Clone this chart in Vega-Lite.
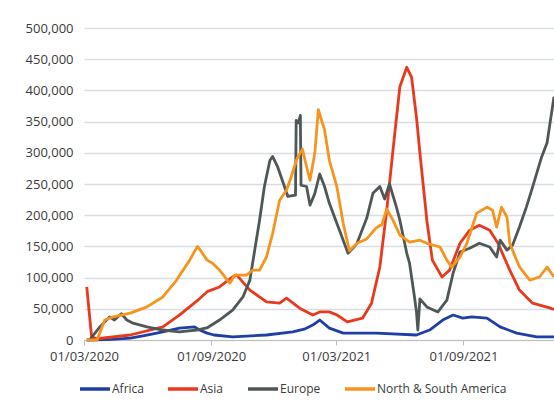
{
  "$schema": "https://vega.github.io/schema/vega-lite/v6.json",
  "width": 470,
  "height": 312,
  "autosize": {"type": "none"},
  "padding": {"left": 84, "top": 28, "right": 0, "bottom": 61},
  "background": "#ffffff",
  "config": {"font": "Open Sans", "view": {"stroke": null}},
  "data": {"values": [
    {"region": "Africa", "date": "2020-03-05", "cases": 0},
    {"region": "Africa", "date": "2020-04-10", "cases": 1000},
    {"region": "Africa", "date": "2020-05-07", "cases": 3000},
    {"region": "Africa", "date": "2020-05-31", "cases": 8000},
    {"region": "Africa", "date": "2020-06-23", "cases": 13000},
    {"region": "Africa", "date": "2020-07-17", "cases": 19000},
    {"region": "Africa", "date": "2020-08-08", "cases": 21000},
    {"region": "Africa", "date": "2020-08-15", "cases": 16000},
    {"region": "Africa", "date": "2020-08-26", "cases": 11000},
    {"region": "Africa", "date": "2020-09-05", "cases": 8000},
    {"region": "Africa", "date": "2020-10-02", "cases": 5000},
    {"region": "Africa", "date": "2020-11-20", "cases": 8000},
    {"region": "Africa", "date": "2020-12-28", "cases": 13000},
    {"region": "Africa", "date": "2021-01-15", "cases": 18000},
    {"region": "Africa", "date": "2021-01-26", "cases": 24000},
    {"region": "Africa", "date": "2021-02-05", "cases": 32000},
    {"region": "Africa", "date": "2021-02-19", "cases": 19000},
    {"region": "Africa", "date": "2021-03-11", "cases": 11000},
    {"region": "Africa", "date": "2021-04-28", "cases": 11000},
    {"region": "Africa", "date": "2021-06-25", "cases": 8000},
    {"region": "Africa", "date": "2021-07-14", "cases": 16000},
    {"region": "Africa", "date": "2021-08-02", "cases": 32000},
    {"region": "Africa", "date": "2021-08-17", "cases": 40000},
    {"region": "Africa", "date": "2021-08-31", "cases": 35000},
    {"region": "Africa", "date": "2021-09-13", "cases": 37000},
    {"region": "Africa", "date": "2021-10-05", "cases": 35000},
    {"region": "Africa", "date": "2021-10-24", "cases": 21000},
    {"region": "Africa", "date": "2021-11-17", "cases": 11000},
    {"region": "Africa", "date": "2021-12-16", "cases": 5000},
    {"region": "Africa", "date": "2022-01-10", "cases": 5000},

    {"region": "Asia", "date": "2020-03-05", "cases": 85000},
    {"region": "Asia", "date": "2020-03-12", "cases": 5000},
    {"region": "Asia", "date": "2020-03-20", "cases": 2000},
    {"region": "Asia", "date": "2020-05-07", "cases": 8000},
    {"region": "Asia", "date": "2020-06-23", "cases": 21000},
    {"region": "Asia", "date": "2020-07-17", "cases": 40000},
    {"region": "Asia", "date": "2020-08-15", "cases": 66000},
    {"region": "Asia", "date": "2020-08-27", "cases": 78000},
    {"region": "Asia", "date": "2020-09-13", "cases": 85000},
    {"region": "Asia", "date": "2020-10-02", "cases": 101000},
    {"region": "Asia", "date": "2020-10-08", "cases": 104000},
    {"region": "Asia", "date": "2020-10-27", "cases": 80000},
    {"region": "Asia", "date": "2020-11-20", "cases": 61000},
    {"region": "Asia", "date": "2020-12-09", "cases": 59000},
    {"region": "Asia", "date": "2020-12-19", "cases": 67000},
    {"region": "Asia", "date": "2021-01-07", "cases": 51000},
    {"region": "Asia", "date": "2021-01-26", "cases": 40000},
    {"region": "Asia", "date": "2021-02-05", "cases": 45000},
    {"region": "Asia", "date": "2021-02-19", "cases": 45000},
    {"region": "Asia", "date": "2021-03-02", "cases": 40000},
    {"region": "Asia", "date": "2021-03-17", "cases": 29000},
    {"region": "Asia", "date": "2021-04-08", "cases": 35000},
    {"region": "Asia", "date": "2021-04-21", "cases": 59000},
    {"region": "Asia", "date": "2021-05-03", "cases": 117000},
    {"region": "Asia", "date": "2021-05-13", "cases": 208000},
    {"region": "Asia", "date": "2021-05-22", "cases": 304000},
    {"region": "Asia", "date": "2021-06-01", "cases": 406000},
    {"region": "Asia", "date": "2021-06-11", "cases": 437000},
    {"region": "Asia", "date": "2021-06-18", "cases": 421000},
    {"region": "Asia", "date": "2021-06-25", "cases": 357000},
    {"region": "Asia", "date": "2021-06-30", "cases": 300000},
    {"region": "Asia", "date": "2021-07-10", "cases": 192000},
    {"region": "Asia", "date": "2021-07-18", "cases": 128000},
    {"region": "Asia", "date": "2021-08-01", "cases": 101000},
    {"region": "Asia", "date": "2021-08-12", "cases": 112000},
    {"region": "Asia", "date": "2021-08-27", "cases": 155000},
    {"region": "Asia", "date": "2021-09-10", "cases": 176000},
    {"region": "Asia", "date": "2021-09-24", "cases": 184000},
    {"region": "Asia", "date": "2021-10-09", "cases": 176000},
    {"region": "Asia", "date": "2021-10-21", "cases": 155000},
    {"region": "Asia", "date": "2021-11-07", "cases": 112000},
    {"region": "Asia", "date": "2021-11-21", "cases": 80000},
    {"region": "Asia", "date": "2021-12-10", "cases": 59000},
    {"region": "Asia", "date": "2022-01-05", "cases": 51000},
    {"region": "Asia", "date": "2022-01-10", "cases": 49000},

    {"region": "Europe", "date": "2020-03-09", "cases": 0},
    {"region": "Europe", "date": "2020-03-24", "cases": 21000},
    {"region": "Europe", "date": "2020-04-07", "cases": 37000},
    {"region": "Europe", "date": "2020-04-14", "cases": 32000},
    {"region": "Europe", "date": "2020-04-24", "cases": 42000},
    {"region": "Europe", "date": "2020-05-02", "cases": 32000},
    {"region": "Europe", "date": "2020-05-11", "cases": 27000},
    {"region": "Europe", "date": "2020-05-31", "cases": 21000},
    {"region": "Europe", "date": "2020-06-23", "cases": 16000},
    {"region": "Europe", "date": "2020-07-17", "cases": 13000},
    {"region": "Europe", "date": "2020-08-11", "cases": 16000},
    {"region": "Europe", "date": "2020-08-27", "cases": 20000},
    {"region": "Europe", "date": "2020-09-13", "cases": 32000},
    {"region": "Europe", "date": "2020-10-02", "cases": 48000},
    {"region": "Europe", "date": "2020-10-17", "cases": 69000},
    {"region": "Europe", "date": "2020-10-27", "cases": 96000},
    {"region": "Europe", "date": "2020-11-03", "cases": 144000},
    {"region": "Europe", "date": "2020-11-10", "cases": 192000},
    {"region": "Europe", "date": "2020-11-17", "cases": 246000},
    {"region": "Europe", "date": "2020-11-25", "cases": 288000},
    {"region": "Europe", "date": "2020-11-29", "cases": 294000},
    {"region": "Europe", "date": "2020-12-06", "cases": 278000},
    {"region": "Europe", "date": "2020-12-16", "cases": 246000},
    {"region": "Europe", "date": "2020-12-21", "cases": 230000},
    {"region": "Europe", "date": "2021-01-01", "cases": 232000},
    {"region": "Europe", "date": "2021-01-02", "cases": 352000},
    {"region": "Europe", "date": "2021-01-05", "cases": 348000},
    {"region": "Europe", "date": "2021-01-08", "cases": 360000},
    {"region": "Europe", "date": "2021-01-09", "cases": 248000},
    {"region": "Europe", "date": "2021-01-17", "cases": 246000},
    {"region": "Europe", "date": "2021-01-22", "cases": 216000},
    {"region": "Europe", "date": "2021-01-29", "cases": 235000},
    {"region": "Europe", "date": "2021-02-05", "cases": 266000},
    {"region": "Europe", "date": "2021-02-12", "cases": 246000},
    {"region": "Europe", "date": "2021-02-19", "cases": 219000},
    {"region": "Europe", "date": "2021-03-11", "cases": 160000},
    {"region": "Europe", "date": "2021-03-18", "cases": 139000},
    {"region": "Europe", "date": "2021-03-25", "cases": 147000},
    {"region": "Europe", "date": "2021-03-31", "cases": 155000},
    {"region": "Europe", "date": "2021-04-14", "cases": 195000},
    {"region": "Europe", "date": "2021-04-23", "cases": 235000},
    {"region": "Europe", "date": "2021-05-03", "cases": 246000},
    {"region": "Europe", "date": "2021-05-10", "cases": 226000},
    {"region": "Europe", "date": "2021-05-17", "cases": 250000},
    {"region": "Europe", "date": "2021-05-27", "cases": 213000},
    {"region": "Europe", "date": "2021-06-01", "cases": 192000},
    {"region": "Europe", "date": "2021-06-11", "cases": 139000},
    {"region": "Europe", "date": "2021-06-15", "cases": 123000},
    {"region": "Europe", "date": "2021-06-22", "cases": 70000},
    {"region": "Europe", "date": "2021-06-25", "cases": 45000},
    {"region": "Europe", "date": "2021-06-27", "cases": 16000},
    {"region": "Europe", "date": "2021-06-30", "cases": 66000},
    {"region": "Europe", "date": "2021-07-10", "cases": 53000},
    {"region": "Europe", "date": "2021-07-26", "cases": 45000},
    {"region": "Europe", "date": "2021-08-08", "cases": 64000},
    {"region": "Europe", "date": "2021-08-17", "cases": 107000},
    {"region": "Europe", "date": "2021-08-27", "cases": 141000},
    {"region": "Europe", "date": "2021-09-10", "cases": 147000},
    {"region": "Europe", "date": "2021-09-24", "cases": 155000},
    {"region": "Europe", "date": "2021-10-09", "cases": 149000},
    {"region": "Europe", "date": "2021-10-19", "cases": 133000},
    {"region": "Europe", "date": "2021-10-24", "cases": 160000},
    {"region": "Europe", "date": "2021-11-03", "cases": 144000},
    {"region": "Europe", "date": "2021-11-11", "cases": 152000},
    {"region": "Europe", "date": "2021-11-21", "cases": 181000},
    {"region": "Europe", "date": "2021-12-01", "cases": 213000},
    {"region": "Europe", "date": "2021-12-10", "cases": 245000},
    {"region": "Europe", "date": "2021-12-23", "cases": 293000},
    {"region": "Europe", "date": "2021-12-31", "cases": 316000},
    {"region": "Europe", "date": "2022-01-10", "cases": 390000},

    {"region": "North & South America", "date": "2020-03-05", "cases": 0},
    {"region": "North & South America", "date": "2020-03-20", "cases": 0},
    {"region": "North & South America", "date": "2020-03-31", "cases": 32000},
    {"region": "North & South America", "date": "2020-04-12", "cases": 37000},
    {"region": "North & South America", "date": "2020-05-07", "cases": 43000},
    {"region": "North & South America", "date": "2020-05-31", "cases": 53000},
    {"region": "North & South America", "date": "2020-06-23", "cases": 69000},
    {"region": "North & South America", "date": "2020-07-13", "cases": 96000},
    {"region": "North & South America", "date": "2020-08-01", "cases": 128000},
    {"region": "North & South America", "date": "2020-08-12", "cases": 150000},
    {"region": "North & South America", "date": "2020-08-15", "cases": 146000},
    {"region": "North & South America", "date": "2020-08-26", "cases": 128000},
    {"region": "North & South America", "date": "2020-09-03", "cases": 123000},
    {"region": "North & South America", "date": "2020-09-13", "cases": 112000},
    {"region": "North & South America", "date": "2020-09-28", "cases": 91000},
    {"region": "North & South America", "date": "2020-10-05", "cases": 104000},
    {"region": "North & South America", "date": "2020-10-22", "cases": 104000},
    {"region": "North & South America", "date": "2020-10-31", "cases": 112000},
    {"region": "North & South America", "date": "2020-11-10", "cases": 112000},
    {"region": "North & South America", "date": "2020-11-20", "cases": 133000},
    {"region": "North & South America", "date": "2020-11-29", "cases": 171000},
    {"region": "North & South America", "date": "2020-12-09", "cases": 224000},
    {"region": "North & South America", "date": "2020-12-19", "cases": 240000},
    {"region": "North & South America", "date": "2020-12-26", "cases": 262000},
    {"region": "North & South America", "date": "2021-01-03", "cases": 290000},
    {"region": "North & South America", "date": "2021-01-11", "cases": 306000},
    {"region": "North & South America", "date": "2021-01-17", "cases": 278000},
    {"region": "North & South America", "date": "2021-01-22", "cases": 256000},
    {"region": "North & South America", "date": "2021-01-29", "cases": 300000},
    {"region": "North & South America", "date": "2021-02-03", "cases": 369000},
    {"region": "North & South America", "date": "2021-02-12", "cases": 337000},
    {"region": "North & South America", "date": "2021-02-19", "cases": 288000},
    {"region": "North & South America", "date": "2021-03-02", "cases": 245000},
    {"region": "North & South America", "date": "2021-03-11", "cases": 187000},
    {"region": "North & South America", "date": "2021-03-20", "cases": 143000},
    {"region": "North & South America", "date": "2021-03-31", "cases": 155000},
    {"region": "North & South America", "date": "2021-04-14", "cases": 162000},
    {"region": "North & South America", "date": "2021-04-28", "cases": 180000},
    {"region": "North & South America", "date": "2021-05-06", "cases": 185000},
    {"region": "North & South America", "date": "2021-05-13", "cases": 210000},
    {"region": "North & South America", "date": "2021-05-22", "cases": 192000},
    {"region": "North & South America", "date": "2021-06-01", "cases": 168000},
    {"region": "North & South America", "date": "2021-06-15", "cases": 157000},
    {"region": "North & South America", "date": "2021-06-30", "cases": 160000},
    {"region": "North & South America", "date": "2021-07-10", "cases": 155000},
    {"region": "North & South America", "date": "2021-07-29", "cases": 149000},
    {"region": "North & South America", "date": "2021-08-08", "cases": 128000},
    {"region": "North & South America", "date": "2021-08-15", "cases": 117000},
    {"region": "North & South America", "date": "2021-08-27", "cases": 133000},
    {"region": "North & South America", "date": "2021-09-06", "cases": 155000},
    {"region": "North & South America", "date": "2021-09-20", "cases": 203000},
    {"region": "North & South America", "date": "2021-10-05", "cases": 213000},
    {"region": "North & South America", "date": "2021-10-13", "cases": 208000},
    {"region": "North & South America", "date": "2021-10-19", "cases": 181000},
    {"region": "North & South America", "date": "2021-10-26", "cases": 213000},
    {"region": "North & South America", "date": "2021-11-03", "cases": 197000},
    {"region": "North & South America", "date": "2021-11-07", "cases": 155000},
    {"region": "North & South America", "date": "2021-11-21", "cases": 117000},
    {"region": "North & South America", "date": "2021-12-06", "cases": 96000},
    {"region": "North & South America", "date": "2021-12-20", "cases": 101000},
    {"region": "North & South America", "date": "2021-12-31", "cases": 117000},
    {"region": "North & South America", "date": "2022-01-10", "cases": 101000}
  ]},
  "mark": {"type": "line", "strokeWidth": 2.8, "strokeJoin": "round"},
  "encoding": {
    "x": {
      "field": "date", "type": "temporal",
      "scale": {"type": "utc", "domain": [{"year": 2020, "month": 3, "date": 1, "utc": true}, {"year": 2022, "month": 1, "date": 10, "utc": true}]},
      "axis": {
        "title": null, "grid": false,
        "values": [{"year": 2020, "month": 3, "date": 1, "utc": true}, {"year": 2020, "month": 9, "date": 1, "utc": true}, {"year": 2021, "month": 3, "date": 1, "utc": true}, {"year": 2021, "month": 9, "date": 1, "utc": true}],
        "format": "%d/%m/%Y", "labelFontSize": 13, "labelColor": "#3a3a3a",
        "domainColor": "#bfbfbf", "tickColor": "#bfbfbf", "tickSize": 5,
        "labelPadding": 5, "labelOverlap": false, "labelFlush": false
      }
    },
    "y": {
      "field": "cases", "type": "quantitative",
      "scale": {"domain": [0, 500000], "nice": false},
      "axis": {
        "title": null, "values": [0, 50000, 100000, 150000, 200000, 250000, 300000, 350000, 400000, 450000, 500000],
        "format": ",.0f", "labelFontSize": 13, "labelColor": "#3a3a3a",
        "domain": false, "ticks": false, "labelPadding": 11,
        "gridColor": "#d6dde3", "gridWidth": 1.3
      }
    },
    "color": {
      "field": "region", "type": "nominal",
      "scale": {"domain": ["Africa", "Asia", "Europe", "North & South America"], "range": ["#1f3fa6", "#e8391d", "#4f5757", "#f7941d"]},
      "legend": {
        "title": null, "orient": "none", "direction": "horizontal",
        "legendX": -6, "legendY": 344,
        "symbolType": "stroke", "symbolSize": 900, "symbolStrokeWidth": 3.5,
        "labelFontSize": 12, "labelColor": "#3a3a3a", "labelOffset": 0, "columnPadding": 17
      }
    }
  }
}
